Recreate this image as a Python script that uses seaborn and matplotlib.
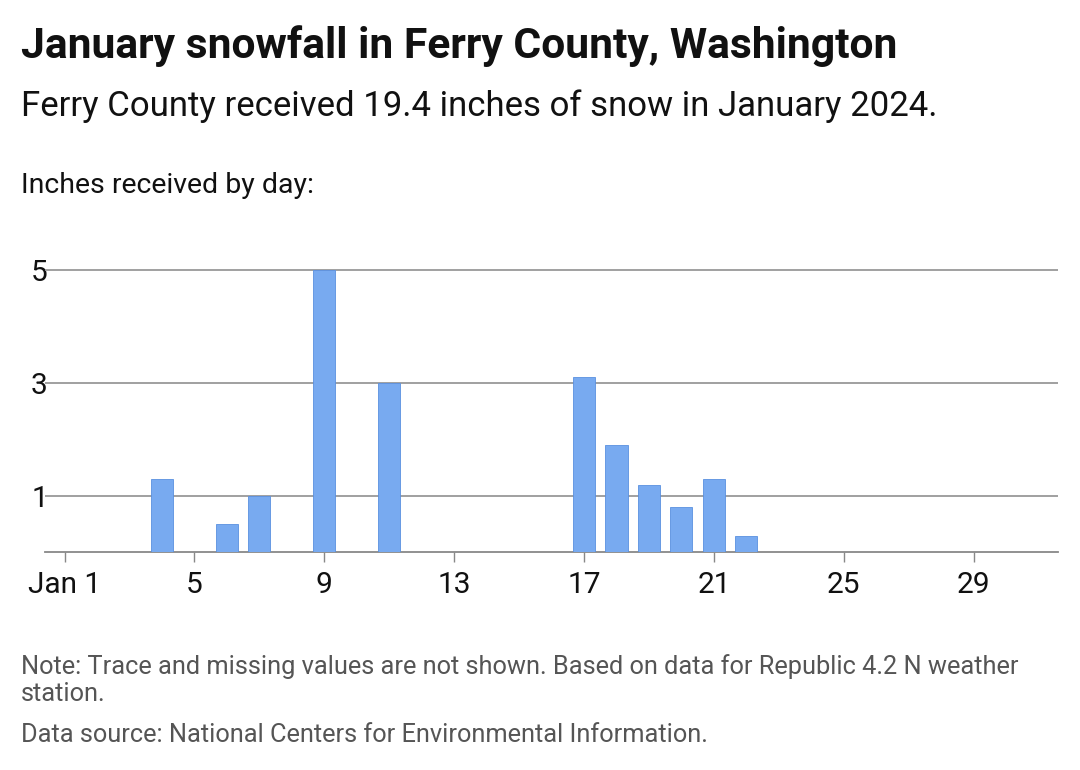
import matplotlib
matplotlib.use("Agg")
import matplotlib.pyplot as plt
import seaborn as sns
import pandas as pd

days = [4, 6, 7, 9, 11, 17, 18, 19, 20, 21, 22]
inches = [1.3, 0.5, 1.0, 5.0, 3.0, 3.1, 1.9, 1.2, 0.8, 1.3, 0.3]
xticks = [1, 5, 9, 13, 17, 21, 25, 29]
xlabels = ["Jan 1", "5", "9", "13", "17", "21", "25", "29"]
yticks = [1, 3, 5]

sns.set_theme(style="white")
plt.rcParams['font.family'] = ['Roboto', 'DejaVu Sans']

fig = plt.figure(figsize=(10.8, 7.7), dpi=100)
ax = fig.add_axes([0.0417, 0.2825, 0.938, 0.393])
df = pd.DataFrame({"day": days, "in": inches})
sns.barplot(data=df, x="day", y="in", native_scale=True, width=0.68,
            color="#78aaf0", edgecolor="#5a90e0", linewidth=0.6, saturation=1, ax=ax, zorder=3)
ax.set_xlim(0.4, 31.6)
ax.set_ylim(0, 5.35)
ax.set_yticks(yticks)
ax.set_yticklabels([str(v) for v in yticks], fontsize=21.5, color="#111")
ax.set_xticks(xticks)
ax.set_xticklabels(xlabels, fontsize=21.5, color="#111")
ax.tick_params(axis="y", length=0, pad=-2)
ax.tick_params(axis="x", length=7, width=1, color="#888", bottom=True, pad=6)
for y in yticks:
    ax.axhline(y, color="#999", lw=1.3, zorder=1)
for s in ["top", "right", "left"]:
    ax.spines[s].set_visible(False)
ax.spines["bottom"].set_color("#888")
ax.spines["bottom"].set_linewidth(1.3)
ax.set_xlabel("")
ax.set_ylabel("")

fig.text(0.019, 0.94, "January snowfall in Ferry County, Washington", fontsize=30.7, fontweight="bold", va="center", color="#111")
fig.text(0.019, 0.862, "Ferry County received 19.4 inches of snow in January 2024.", fontsize=25, va="center", color="#111")
fig.text(0.019, 0.759, "Inches received by day:", fontsize=20.5, va="center", color="#111")
fig.text(0.019, 0.135, "Note: Trace and missing values are not shown. Based on data for Republic 4.2 N weather", fontsize=18.3, va="center", color="#555")
fig.text(0.019, 0.099, "station.", fontsize=18.3, va="center", color="#555")
fig.text(0.019, 0.045, "Data source: National Centers for Environmental Information.", fontsize=18.3, va="center", color="#555")
fig.savefig("out.png", dpi=100)
